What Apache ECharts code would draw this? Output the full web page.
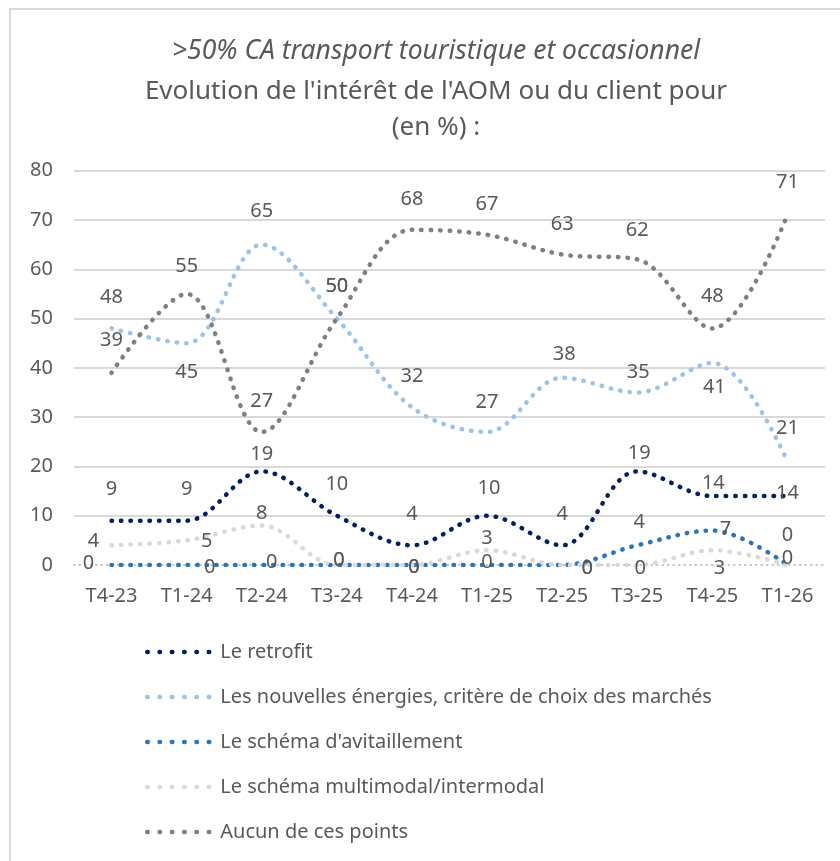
<!DOCTYPE html>
<html>
<head>
<meta charset="utf-8">
<script src="https://cdn.jsdelivr.net/npm/echarts@6/dist/echarts.min.js"></script>
<style>
  html, body { margin: 0; padding: 0; background: #ffffff; }
  #chart { width: 840px; height: 861px; }
</style>
</head>
<body>
<div id="chart"></div>
<script>
// Quarters on the horizontal axis
const quarters = ['T4-23', 'T1-24', 'T2-24', 'T3-24', 'T4-24', 'T1-25', 'T2-25', 'T3-25', 'T4-25', 'T1-26'];

// Share of answers (%) per quarter
const retrofit      = [9, 9, 19, 10, 4, 10, 4, 19, 14, 14];
const nouvellesEner = [48, 45, 65, 50, 32, 27, 38, 35, 41, 21];
const avitaillement = [0, 0, 0, 0, 0, 0, 0, 4, 7, 0];
const multimodal    = [4, 5, 8, 0, 0, 3, 0, 0, 3, 0];
const aucun         = [39, 55, 27, 50, 68, 67, 63, 62, 48, 71];

const yTicks = { min: 0, max: 80, step: 10 };

// Label placement around each point (pixel shift from the point)
const retrofitShift      = [[0,-31],[0,-31],[0,-17],[0,-31],[0,-31],[2,-27],[0,-31],[2,-18],[1,-13],[0,-3]];
const nouvellesShift     = [[0,-31],[0,29],[0,-33],[0,-32],[0,-31],[0,-30],[2,-23],[1,-20],[2,24],[0,-33]];
const avitaillementShift = [[-23,-2],[23,2],[10,-3],[2,-5],[2,2],[0,-3],[25,3],[2,-23],[13,-1],[0,-30]];
const multimodalShift    = [[-18,-4],[20,1],[0,-12],[2,-5],[2,2],[0,-12],[25,3],[3,3],[7,18],[0,-7]];
const aucunShift         = [[0,-32],[0,-28],[0,-31],[0,-32],[0,-31],[0,-30],[0,-30],[0,-29],[0,-32],[0,-33]];

const FONT = '"Noto Sans", sans-serif';
const TXT = '#595959';

function buildSeries(name, values, shifts, color) {
  return {
    name: name,
    type: 'line',
    smooth: 0.35,
    symbol: 'circle',
    symbolSize: 2,
    itemStyle: { color: 'rgba(0,0,0,0)' },
    lineStyle: { color: color, width: 4.5, type: [0.5, 9], cap: 'round' },
    emphasis: { disabled: true },
    silent: true,
    data: values.map((v, i) => ({
      value: v,
      label: { offset: shifts[i] }
    })),
    label: {
      show: true,
      position: 'inside',
      color: TXT,
      fontFamily: FONT,
      fontSize: 20
    }
  };
}

const chart = echarts.init(document.getElementById('chart'), null, { renderer: 'canvas' });

chart.setOption({
  backgroundColor: '#ffffff',
  animation: false,
  graphic: [{
    type: 'rect',
    shape: { x: 10, y: 9, width: 850, height: 880 },
    style: { fill: 'none', stroke: '#D9D9D9', lineWidth: 2 },
    silent: true,
    z: -10
  }],
  title: [{
    text: '>50% CA transport touristique et occasionnel',
    left: 431,
    top: 33,
    textAlign: 'center',
    textStyle: { fontFamily: FONT, fontSize: 26.5, fontStyle: 'italic', fontWeight: 'normal', color: TXT }
  }, {
    text: "Evolution de l'intérêt de l'AOM ou du client pour\n(en %) :",
    left: 431,
    top: 69,
    textAlign: 'center',
    textStyle: { fontFamily: FONT, fontSize: 26, fontWeight: 'normal', color: TXT, lineHeight: 36 }
  }],
  legend: {
    orient: 'vertical',
    left: 140,
    top: 637,
    itemWidth: 62,
    itemHeight: 20,
    itemGap: 25,
    selectedMode: false,
    itemStyle: { color: 'rgba(0,0,0,0)' },
    lineStyle: { width: 4.5, type: [0.5, 11.8], cap: 'round' },
    textStyle: { fontFamily: FONT, fontSize: 20, color: TXT, lineHeight: 20, padding: [0, 0, 0, 6] },
    data: ['Le retrofit', 'Les nouvelles énergies, critère de choix des marchés',
           "Le schéma d'avitaillement", 'Le schéma multimodal/intermodal', 'Aucun de ces points']
  },
  grid: { left: 74, right: 15, top: 170.7, bottom: 296 },
  xAxis: {
    type: 'category',
    data: quarters,
    boundaryGap: true,
    axisLine: { show: true, lineStyle: { color: '#BFBFBF', width: 2, type: [0.5, 5], cap: 'round' } },
    axisTick: { show: false },
    axisLabel: { color: TXT, fontFamily: FONT, fontSize: 20, margin: 21 },
    splitLine: { show: false }
  },
  yAxis: {
    type: 'value',
    min: yTicks.min,
    max: yTicks.max,
    interval: yTicks.step,
    axisLine: { show: false },
    axisTick: { show: false },
    axisLabel: { color: TXT, fontFamily: FONT, fontSize: 20, margin: 21 },
    splitLine: { show: true, showMinLine: false, lineStyle: { color: '#D9D9D9', width: 2 } }
  },
  series: [
    buildSeries('Le retrofit', retrofit, retrofitShift, '#002060'),
    buildSeries('Les nouvelles énergies, critère de choix des marchés', nouvellesEner, nouvellesShift, '#9DC3E6'),
    buildSeries("Le schéma d'avitaillement", avitaillement, avitaillementShift, '#2E75B6'),
    buildSeries('Le schéma multimodal/intermodal', multimodal, multimodalShift, '#D9D9D9'),
    buildSeries('Aucun de ces points', aucun, aucunShift, '#7F7F7F')
  ]
});
</script>
</body>
</html>
